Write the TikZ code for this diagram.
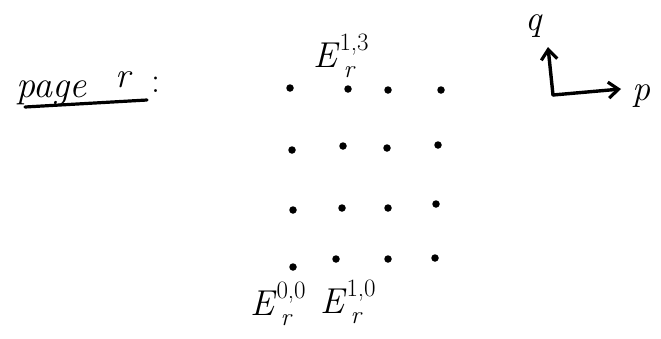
\documentclass[tikz,border=0pt]{standalone}
\usetikzlibrary{arrows.meta}
\newcommand\myElabel[1]{\textit{E}\rlap{\raisebox{-0.3em}{\fontsize{25}{27}\selectfont\itshape\,r}}\raisebox{0.45em}{\fontsize{25}{27}\selectfont#1}}
\begin{document}
\begin{tikzpicture}[x=1pt,y=-1pt,
  dot/.style={circle,fill=black,inner sep=0pt,minimum size=7.5pt},
  lbl/.style={inner sep=0pt,font=\fontsize{36}{40}\selectfont},
  axis/.style={line width=3.4pt,line cap=round,-{Straight Barb[length=10pt,width=16pt,line width=3.2pt]}}]
\useasboundingbox (0,0) rectangle (661,338);
% title
\node[lbl,anchor=base west,font=\fontsize{38}{42}\selectfont] (page) at (16,97) {\itshape page};
\node[lbl,anchor=base west] (r) at (115,87) {\itshape r};
\node[lbl,anchor=base west] (colon) at (151,92) {:};
\coordinate (ul1) at (25,107);
\coordinate (ul2) at (147,100);
\draw[line width=3.2pt,line cap=round] (ul1) -- (ul2);
% grid of dots
\foreach \n/\x/\y in {a3/290/88, b3/348/89, c3/388/90, d3/441/90,
                      a2/292/150, b2/343/146, c2/387/148, d2/438/145,
                      a1/293/210, b1/342/208, c1/388/208, d1/436/204,
                      a0/293/267, b0/336/259, c0/388/259, d0/435/258}
  \node[dot] (\n) at (\x,\y) {};
% labels
\node[lbl,anchor=base west] (e13) at (313,67) {\myElabel{1,3}};
\node[lbl,anchor=base west] (e00) at (250,315) {\myElabel{0,0}};
\node[lbl,anchor=base west] (e10) at (320,313) {\myElabel{1,0}};
% axes
\coordinate (o) at (553,95);
\coordinate (qe) at (548,47);
\coordinate (pe) at (621,89);
\draw[axis] (o) -- (qe);
\draw[axis] (o) -- (pe);
\node[lbl,anchor=base] (q) at (534,30) {\itshape q};
\node[lbl,anchor=base] (p) at (641,100) {\itshape p};
\end{tikzpicture}
\end{document}
